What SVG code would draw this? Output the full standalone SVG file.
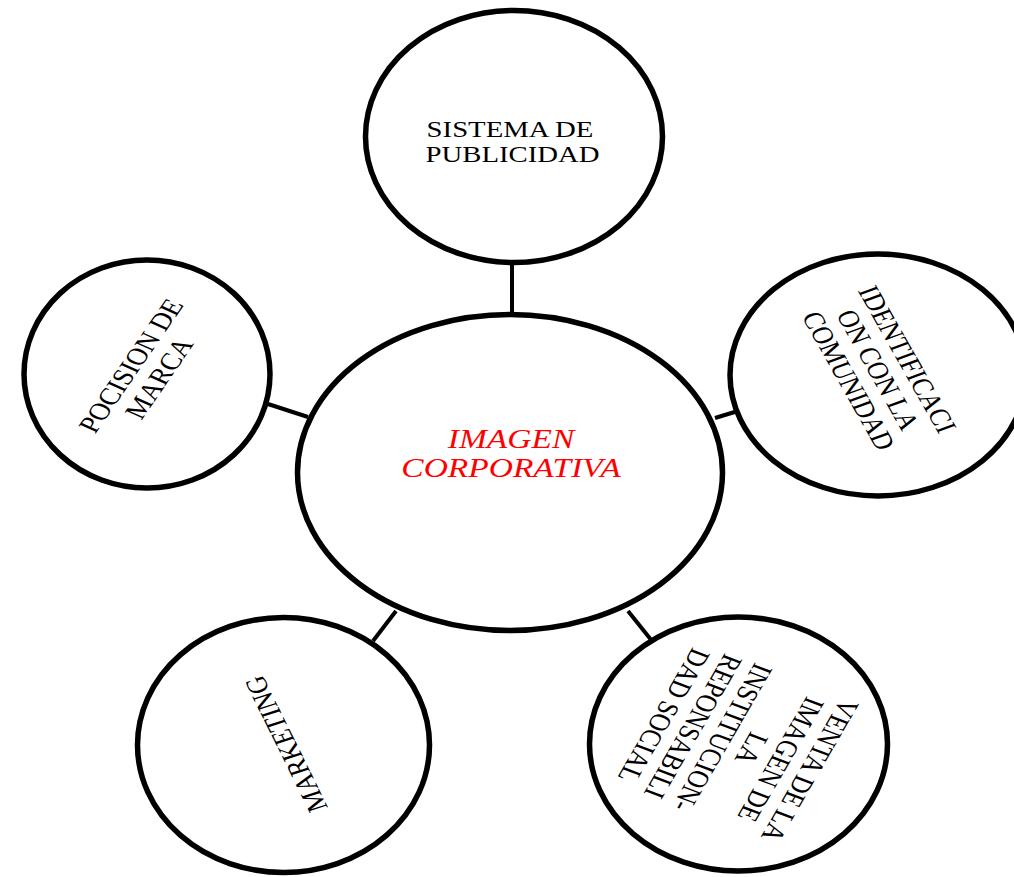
<svg xmlns="http://www.w3.org/2000/svg" width="1014" height="877" viewBox="0 0 1014 877">
<style>
.bubble{fill:#fff;stroke:#000;stroke-width:5.5}
.conn{stroke:#000;stroke-width:4;fill:none}
.lbl{font-family:"Liberation Serif","Times New Roman",serif;font-size:24px;fill:#000;text-anchor:middle}
.top{font-size:23px}
.main{font-family:"Liberation Serif","Times New Roman",serif;font-size:27px;font-style:italic;fill:#ff0000;text-anchor:middle}
</style>
<rect width="1014" height="877" fill="#fff"/>
<g id="connectors">
<line class="conn" x1="512" y1="262" x2="512" y2="316"/>
<line class="conn" x1="268" y1="404" x2="308" y2="417"/>
<line class="conn" x1="715" y1="418" x2="738" y2="411"/>
<line class="conn" x1="396" y1="611" x2="373" y2="641"/>
<line class="conn" x1="628" y1="611" x2="652" y2="641"/>
</g>
<g id="node-publicidad">
<ellipse class="bubble" cx="514" cy="136.5" rx="148.5" ry="126"/>
<g transform="translate(510,0) scale(1.25,1)">
<text class="lbl top" x="0" y="137">SISTEMA DE</text>
<text class="lbl top" x="2" y="162">PUBLICIDAD</text>
</g>
</g>
<g id="node-posicion">
<ellipse class="bubble" cx="147" cy="374" rx="123" ry="114"/>
<g transform="translate(145,372) scale(1.24,1) rotate(-61)">
<text class="lbl" x="0" y="-5">POCISION DE</text>
<text class="lbl" x="0" y="21">MARCA</text>
</g>
</g>
<g id="node-identificacion">
<ellipse class="bubble" cx="878" cy="375" rx="148" ry="121"/>
<g transform="translate(878,370) scale(1.24,1) rotate(65.5)">
<text class="lbl" x="0" y="-18">IDENTIFICACI</text>
<text class="lbl" x="0" y="8">ON CON LA</text>
<text class="lbl" x="0" y="34">COMUNIDAD</text>
</g>
</g>
<g id="node-marketing">
<ellipse class="bubble" cx="283.5" cy="745" rx="146" ry="127.5"/>
<g transform="translate(286,744) scale(1.24,1) rotate(-111.7)">
<text class="lbl" x="0" y="8">MARKETING</text>
</g>
</g>
<g id="node-venta">
<ellipse class="bubble" cx="738.5" cy="744" rx="149" ry="127"/>
<g transform="translate(737,743) scale(1.24,1) rotate(115)">
<text class="lbl" x="0" y="-57">VENTA DE LA</text>
<text class="lbl" x="0" y="-31">IMAGEN DE</text>
<text class="lbl" x="0" y="-5">LA</text>
<text class="lbl" x="0" y="21">INSTITUCION-</text>
<text class="lbl" x="0" y="47">REPONSABILI</text>
<text class="lbl" x="0" y="73">DAD SOCIAL</text>
</g>
</g>
<g id="node-imagen">
<ellipse class="bubble" cx="510" cy="472.5" rx="212.5" ry="158"/>
<g transform="translate(511,0) scale(1.24,1)">
<text class="main" x="0" y="448">IMAGEN</text>
<text class="main" x="0" y="477">CORPORATIVA</text>
</g>
</g>
</svg>
